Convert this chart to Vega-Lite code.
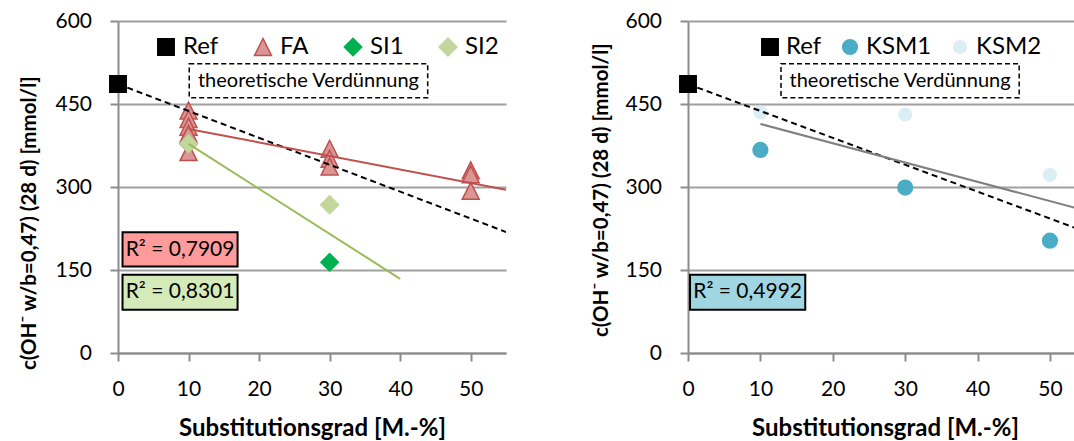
{
  "$schema": "https://vega.github.io/schema/vega-lite/v6.json",
  "background": "white",
  "padding": {"left": 19, "top": 10, "right": 0, "bottom": 0},
  "bounds": "flush",
  "spacing": 182,
  "resolve": {
    "scale": {"shape": "independent", "fill": "independent", "stroke": "independent", "size": "independent"},
    "legend": {"shape": "independent", "fill": "independent", "stroke": "independent", "size": "independent"}
  },
  "datasets": {
    "ptsL": [
      {"series": "Ref", "x": 0, "y": 486},
      {"series": "FA", "x": 10, "y": 438},
      {"series": "FA", "x": 10, "y": 423},
      {"series": "FA", "x": 10, "y": 409},
      {"series": "FA", "x": 10, "y": 396},
      {"series": "FA", "x": 10, "y": 363},
      {"series": "FA", "x": 30, "y": 369},
      {"series": "FA", "x": 30, "y": 351},
      {"series": "FA", "x": 30, "y": 337},
      {"series": "FA", "x": 50, "y": 330},
      {"series": "FA", "x": 50, "y": 323},
      {"series": "FA", "x": 50, "y": 293},
      {"series": "SI1", "x": 10, "y": 378},
      {"series": "SI1", "x": 30, "y": 164},
      {"series": "SI2", "x": 10, "y": 378},
      {"series": "SI2", "x": 30, "y": 268}
    ],
    "linesL": [
      {"line": "dil", "x": 0, "y": 486},
      {"line": "dil", "x": 55, "y": 218.7},
      {"line": "FA", "x": 10, "y": 405},
      {"line": "FA", "x": 55, "y": 295},
      {"line": "SI", "x": 10, "y": 378},
      {"line": "SI", "x": 40, "y": 134}
    ],
    "boxesL": [
      {"box": "dil", "x1": 10.1, "x2": 43.9, "y1": 461.4, "y2": 522.9, "tx": 27, "ty": 492, "label": "theoretische Verdünnung"},
      {"box": "FA", "x1": 0.64, "x2": 16.95, "y1": 156.5, "y2": 218, "tx": 8.8, "ty": 187, "label": "R² = 0,7909"},
      {"box": "SI", "x1": 0.64, "x2": 16.95, "y1": 78.3, "y2": 141.5, "tx": 8.8, "ty": 110, "label": "R² = 0,8301"}
    ],
    "ptsR": [
      {"series": "Ref", "x": 0, "y": 486},
      {"series": "KSM1", "x": 10, "y": 367},
      {"series": "KSM1", "x": 30, "y": 299},
      {"series": "KSM1", "x": 50, "y": 203},
      {"series": "KSM2", "x": 10, "y": 435},
      {"series": "KSM2", "x": 30, "y": 431},
      {"series": "KSM2", "x": 50, "y": 322}
    ],
    "linesR": [
      {"line": "dil", "x": 0, "y": 486},
      {"line": "dil", "x": 55, "y": 218.7},
      {"line": "KSM", "x": 10, "y": 414},
      {"line": "KSM", "x": 55, "y": 257}
    ],
    "boxesR": [
      {"box": "dil", "x1": 12.85, "x2": 45.75, "y1": 461.4, "y2": 522.9, "tx": 29.3, "ty": 492, "label": "theoretische Verdünnung"},
      {"box": "KSM", "x1": 0.28, "x2": 16.2, "y1": 78.3, "y2": 141.5, "tx": 8.24, "ty": 110, "label": "R² = 0,4992"}
    ]
  },
  "hconcat": [
    {
      "width": 388,
      "height": 332,
      "layer": [
        {
          "data": {"name": "ptsL"},
          "mark": {"type": "point", "filled": true, "opacity": 1, "strokeWidth": 1.5},
          "encoding": {
            "x": {"field": "x", "type": "quantitative", "scale": {"domain": [0, 55], "nice": false, "zero": false},
              "axis": {"values": [0, 10, 20, 30, 40, 50], "grid": false, "title": "Substitutionsgrad [M.-%]", "titleBaseline": "alphabetic", "titleY": 82.7, "labelBaseline": "alphabetic", "labelPadding": 34.7}},
            "y": {"field": "y", "type": "quantitative", "scale": {"domain": [0, 600], "nice": false},
              "axis": {"values": [0, 150, 300, 450, 600], "grid": true, "title": "c(OH⁻ w/b=0,47) (28 d) [mmol/l]", "titleX": -88.5, "titleY": 201.7, "titleAngle": 270, "titleAlign": "center", "titleBaseline": "middle", "labelPadding": 18.5}},
            "shape": {"field": "series", "type": "nominal", "scale": {"domain": ["Ref", "FA", "SI1", "SI2"], "range": ["square", "M0,-1L-1,1L1,1Z", "diamond", "diamond"]},
              "legend": {"orient": "none", "legendX": 36, "legendY": 14, "direction": "horizontal", "title": null, "columnPadding": 32, "labelOffset": 5}},
            "fill": {"field": "series", "type": "nominal", "scale": {"domain": ["Ref", "FA", "SI1", "SI2"], "range": ["#000000", "#D99694", "#00B050", "#C3D69B"]}},
            "stroke": {"field": "series", "type": "nominal", "scale": {"domain": ["Ref", "FA", "SI1", "SI2"], "range": ["#000000", "#C0504D", "#00B050", "#C3D69B"]}},
            "size": {"field": "series", "type": "nominal", "scale": {"domain": ["Ref", "FA", "SI1", "SI2"], "range": [270, 320, 182, 342]}}
          }
        },
        {
          "data": {"name": "linesL"},
          "transform": [{"filter": "datum.line == 'dil'"}],
          "mark": {"type": "line", "color": "#000000", "strokeDash": [6, 4], "strokeWidth": 2, "clip": true},
          "encoding": {
            "x": {"field": "x", "type": "quantitative", "scale": {"domain": [0, 55], "nice": false, "zero": false}},
            "y": {"field": "y", "type": "quantitative", "scale": {"domain": [0, 600], "nice": false}}
          }
        },
        {
          "data": {"name": "linesL"},
          "transform": [{"filter": "datum.line == 'FA'"}],
          "mark": {"type": "line", "color": "#C0504D", "strokeWidth": 2, "clip": true},
          "encoding": {
            "x": {"field": "x", "type": "quantitative", "scale": {"domain": [0, 55], "nice": false, "zero": false}},
            "y": {"field": "y", "type": "quantitative", "scale": {"domain": [0, 600], "nice": false}}
          }
        },
        {
          "data": {"name": "linesL"},
          "transform": [{"filter": "datum.line == 'SI'"}],
          "mark": {"type": "line", "color": "#9BBB59", "strokeWidth": 2, "clip": true},
          "encoding": {
            "x": {"field": "x", "type": "quantitative", "scale": {"domain": [0, 55], "nice": false, "zero": false}},
            "y": {"field": "y", "type": "quantitative", "scale": {"domain": [0, 600], "nice": false}}
          }
        },
        {
          "data": {"name": "boxesL"},
          "transform": [{"filter": "datum.box == 'dil'"}],
          "mark": {"type": "rect", "fill": "#ffffff", "stroke": "#000000", "strokeWidth": 1.5, "strokeDash": [5, 3]},
          "encoding": {
            "x": {"field": "x1", "type": "quantitative", "scale": {"domain": [0, 55], "nice": false, "zero": false}},
            "x2": {"field": "x2"},
            "y": {"field": "y1", "type": "quantitative", "scale": {"domain": [0, 600], "nice": false}},
            "y2": {"field": "y2"}
          }
        },
        {
          "data": {"name": "boxesL"},
          "transform": [{"filter": "datum.box == 'FA'"}],
          "mark": {"type": "rect", "fill": "#FF9B9B", "stroke": "#000000", "strokeWidth": 2},
          "encoding": {
            "x": {"field": "x1", "type": "quantitative", "scale": {"domain": [0, 55], "nice": false, "zero": false}},
            "x2": {"field": "x2"},
            "y": {"field": "y1", "type": "quantitative", "scale": {"domain": [0, 600], "nice": false}},
            "y2": {"field": "y2"}
          }
        },
        {
          "data": {"name": "boxesL"},
          "transform": [{"filter": "datum.box == 'SI'"}],
          "mark": {"type": "rect", "fill": "#D4EAB8", "stroke": "#000000", "strokeWidth": 2},
          "encoding": {
            "x": {"field": "x1", "type": "quantitative", "scale": {"domain": [0, 55], "nice": false, "zero": false}},
            "x2": {"field": "x2"},
            "y": {"field": "y1", "type": "quantitative", "scale": {"domain": [0, 600], "nice": false}},
            "y2": {"field": "y2"}
          }
        },
        {
          "data": {"name": "boxesL"},
          "transform": [{"filter": "datum.box == 'dil'"}],
          "mark": {"type": "text", "font": "Lato", "fontSize": 20, "color": "#000000"},
          "encoding": {
            "x": {"field": "tx", "type": "quantitative", "scale": {"domain": [0, 55], "nice": false, "zero": false}},
            "y": {"field": "ty", "type": "quantitative", "scale": {"domain": [0, 600], "nice": false}},
            "text": {"field": "label"}
          }
        },
        {
          "data": {"name": "boxesL"},
          "transform": [{"filter": "datum.box != 'dil'"}],
          "mark": {"type": "text", "font": "Lato", "fontSize": 21, "color": "#000000"},
          "encoding": {
            "x": {"field": "tx", "type": "quantitative", "scale": {"domain": [0, 55], "nice": false, "zero": false}},
            "y": {"field": "ty", "type": "quantitative", "scale": {"domain": [0, 600], "nice": false}},
            "text": {"field": "label"}
          }
        }
      ]
    },
    {
      "width": 388,
      "height": 332,
      "layer": [
        {
          "data": {"name": "ptsR"},
          "mark": {"type": "point", "filled": true, "opacity": 1, "strokeWidth": 1.5},
          "encoding": {
            "x": {"field": "x", "type": "quantitative", "scale": {"domain": [0, 53.6], "nice": false, "zero": false},
              "axis": {"values": [0, 10, 20, 30, 40, 50], "grid": false, "title": "Substitutionsgrad [M.-%]", "titleX": 197, "titleBaseline": "alphabetic", "titleY": 82.7, "labelBaseline": "alphabetic", "labelPadding": 34.7}},
            "y": {"field": "y", "type": "quantitative", "scale": {"domain": [0, 600], "nice": false},
              "axis": {"values": [0, 150, 300, 450, 600], "grid": true, "title": "c(OH⁻ w/b=0,47) (28 d) [mmol/l]", "titleX": -87, "titleY": 168.7, "titleAngle": 270, "titleAlign": "center", "titleBaseline": "middle", "labelPadding": 18.5}},
            "shape": {"field": "series", "type": "nominal", "scale": {"domain": ["Ref", "KSM1", "KSM2"], "range": ["square", "circle", "circle"]},
              "legend": {"orient": "none", "legendX": 70, "legendY": 14, "direction": "horizontal", "title": null, "columnPadding": 16, "labelOffset": 4}},
            "fill": {"field": "series", "type": "nominal", "scale": {"domain": ["Ref", "KSM1", "KSM2"], "range": ["#000000", "#4BACC6", "#DAEEF3"]}},
            "stroke": {"field": "series", "type": "nominal", "scale": {"domain": ["Ref", "KSM1", "KSM2"], "range": ["#000000", "#4BACC6", "#DAEEF3"]}},
            "size": {"field": "series", "type": "nominal", "scale": {"domain": ["Ref", "KSM1", "KSM2"], "range": [270, 160, 160]}}
          }
        },
        {
          "data": {"name": "linesR"},
          "transform": [{"filter": "datum.line == 'dil'"}],
          "mark": {"type": "line", "color": "#000000", "strokeDash": [6, 4], "strokeWidth": 2, "clip": true},
          "encoding": {
            "x": {"field": "x", "type": "quantitative", "scale": {"domain": [0, 53.6], "nice": false, "zero": false}},
            "y": {"field": "y", "type": "quantitative", "scale": {"domain": [0, 600], "nice": false}}
          }
        },
        {
          "data": {"name": "linesR"},
          "transform": [{"filter": "datum.line == 'KSM'"}],
          "mark": {"type": "line", "color": "#808080", "strokeWidth": 2, "clip": true},
          "encoding": {
            "x": {"field": "x", "type": "quantitative", "scale": {"domain": [0, 53.6], "nice": false, "zero": false}},
            "y": {"field": "y", "type": "quantitative", "scale": {"domain": [0, 600], "nice": false}}
          }
        },
        {
          "data": {"name": "boxesR"},
          "transform": [{"filter": "datum.box == 'dil'"}],
          "mark": {"type": "rect", "fill": "#ffffff", "stroke": "#000000", "strokeWidth": 1.5, "strokeDash": [5, 3]},
          "encoding": {
            "x": {"field": "x1", "type": "quantitative", "scale": {"domain": [0, 53.6], "nice": false, "zero": false}},
            "x2": {"field": "x2"},
            "y": {"field": "y1", "type": "quantitative", "scale": {"domain": [0, 600], "nice": false}},
            "y2": {"field": "y2"}
          }
        },
        {
          "data": {"name": "boxesR"},
          "transform": [{"filter": "datum.box == 'KSM'"}],
          "mark": {"type": "rect", "fill": "#A0D5E2", "stroke": "#000000", "strokeWidth": 2},
          "encoding": {
            "x": {"field": "x1", "type": "quantitative", "scale": {"domain": [0, 53.6], "nice": false, "zero": false}},
            "x2": {"field": "x2"},
            "y": {"field": "y1", "type": "quantitative", "scale": {"domain": [0, 600], "nice": false}},
            "y2": {"field": "y2"}
          }
        },
        {
          "data": {"name": "boxesR"},
          "transform": [{"filter": "datum.box == 'dil'"}],
          "mark": {"type": "text", "font": "Lato", "fontSize": 20, "color": "#000000"},
          "encoding": {
            "x": {"field": "tx", "type": "quantitative", "scale": {"domain": [0, 53.6], "nice": false, "zero": false}},
            "y": {"field": "ty", "type": "quantitative", "scale": {"domain": [0, 600], "nice": false}},
            "text": {"field": "label"}
          }
        },
        {
          "data": {"name": "boxesR"},
          "transform": [{"filter": "datum.box != 'dil'"}],
          "mark": {"type": "text", "font": "Lato", "fontSize": 21, "color": "#000000"},
          "encoding": {
            "x": {"field": "tx", "type": "quantitative", "scale": {"domain": [0, 53.6], "nice": false, "zero": false}},
            "y": {"field": "ty", "type": "quantitative", "scale": {"domain": [0, 600], "nice": false}},
            "text": {"field": "label"}
          }
        }
      ]
    }
  ],
  "config": {
    "font": "Lato",
    "view": {"stroke": null},
    "axis": {
      "labelFont": "Lato", "labelFontSize": 21, "labelColor": "#000000", "labelFlush": false,
      "titleFont": "Lato", "titleFontWeight": "bold", "titleColor": "#000000",
      "domainColor": "#8C8C8C", "domainWidth": 2, "tickColor": "#8C8C8C", "tickWidth": 2, "tickSize": 8,
      "gridColor": "#A0A0A0", "gridWidth": 2
    },
    "axisX": {"titleFontSize": 24},
    "axisY": {"titleFontSize": 20.5},
    "legend": {
      "labelFont": "Lato", "labelFontSize": 24, "labelColor": "#000000",
      "symbolStrokeWidth": 1.5, "padding": 0, "symbolOpacity": 1
    }
  }
}
